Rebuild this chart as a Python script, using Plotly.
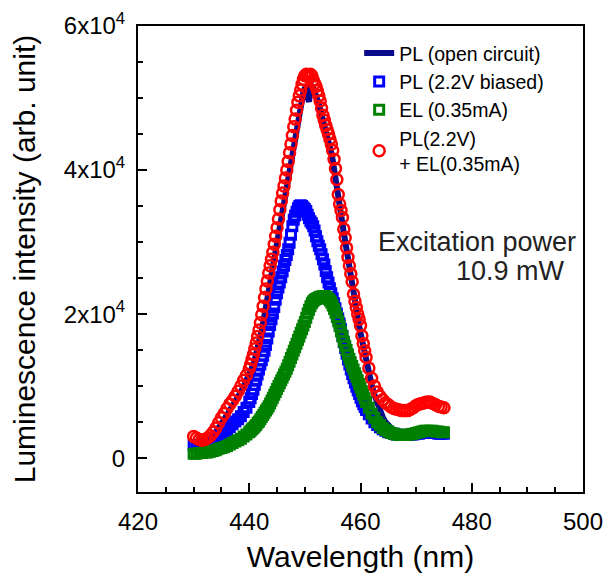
import numpy as np
import plotly.graph_objects as go

# Wavelength sampling grid (nm): 0.5 nm steps on tails, 0.25 nm on the main peak
wl = np.concatenate([
    np.arange(430.0, 440.01, 0.5),
    np.arange(440.25, 461.01, 0.25),
    np.arange(461.5, 475.01, 0.5),
])

# Intensities in units of 1e3 counts
pl_open_k = [
    2.3, 2.2, 2.1, 2.1, 2.2, 2.4, 2.7, 3.1, 3.6, 4.2, 4.8, 5.4, 6.0, 6.6, 7.2, 7.8, 8.5, 9.2, 10.0, 10.8, 11.6,
    11.9, 12.4, 13.0, 13.7,
    14.4, 15.2, 16.0, 16.9,
    17.8, 18.8, 19.9, 21.1,
    22.3, 23.5, 24.6, 25.7,
    26.7, 27.6, 28.6, 29.7,
    30.8, 32.0, 33.2, 34.5,
    35.7, 36.8, 37.8, 38.9,
    40.0, 41.2, 42.4, 43.6,
    44.8, 46.0, 47.1, 48.3,
    49.3, 50.2, 50.9, 51.4,
    51.6, 50.0, 49.5, 51.5,
    51.6, 51.3, 50.9, 50.4,
    49.8, 49.2, 48.5, 47.7,
    46.9, 46.2, 45.5, 44.8,
    44.1, 43.3, 42.4, 41.4,
    40.3, 39.1, 37.8, 36.4,
    35.1, 33.8, 32.6, 31.3,
    30.0, 28.8, 27.5, 26.3,
    25.0, 23.8, 22.6, 21.5,
    20.4, 19.4, 18.4, 17.4,
    16.4, 15.4, 14.4, 13.5,
    11.8, 10.2, 8.8, 7.6, 6.6, 5.7, 5.0, 4.5, 4.1, 3.8, 3.6, 3.4, 3.3, 3.3,
    3.3, 3.3, 3.4, 3.4, 3.5, 3.5, 3.6, 3.6, 3.6, 3.6, 3.5, 3.5, 3.4, 3.4,
]

pl_biased_k = [
    1.8, 1.8, 1.8, 1.9, 1.9, 2.0, 2.2, 2.4, 2.6, 2.9, 3.2, 3.5, 3.9, 4.3, 4.7, 5.1, 5.4, 5.8, 6.4, 7.0, 7.8,
    8.3, 8.9, 9.5, 10.2,
    10.9, 11.6, 12.3, 13.0,
    13.6, 14.2, 14.9, 15.7,
    16.6, 17.6, 18.5, 19.3,
    20.1, 21.0, 22.0, 22.9,
    23.7, 24.4, 25.1, 25.9,
    26.7, 27.5, 28.2, 29.0,
    29.9, 31.0, 32.2, 33.1,
    33.7, 34.2, 34.7, 35.0,
    35.1, 35.0, 34.8, 34.6,
    34.3, 33.8, 33.3, 32.9,
    32.6, 32.2, 31.6, 30.8,
    30.1, 29.5, 29.0, 28.3,
    27.6, 26.9, 26.0, 25.1,
    24.4, 23.6, 22.9, 22.2,
    21.5, 20.8, 20.1, 19.4,
    18.7, 17.9, 17.0, 16.1,
    15.3, 14.5, 13.7, 13.0,
    12.3, 11.7, 11.1, 10.5,
    9.9, 9.4, 8.9, 8.4,
    7.9, 7.5, 7.1, 6.7,
    6.1, 5.5, 5.0, 4.6, 4.3, 4.0, 3.8, 3.6, 3.5, 3.4, 3.3, 3.2, 3.2, 3.2,
    3.2, 3.3, 3.3, 3.4, 3.4, 3.5, 3.5, 3.6, 3.6, 3.5, 3.5, 3.4, 3.4, 3.4,
]

el_k = [
    0.6, 0.6, 0.7, 0.7, 0.8, 0.8, 0.9, 1.0, 1.1, 1.3, 1.4, 1.5, 1.7, 1.9, 2.1, 2.3, 2.5, 2.7, 3.0, 3.3, 3.6,
    3.8, 4.0, 4.2, 4.4,
    4.6, 4.9, 5.1, 5.4,
    5.7, 6.0, 6.3, 6.6,
    6.9, 7.2, 7.6, 8.0,
    8.4, 8.8, 9.2, 9.6,
    10.0, 10.4, 10.8, 11.2,
    11.6, 12.0, 12.4, 12.9,
    13.4, 13.9, 14.4, 14.9,
    15.4, 15.9, 16.4, 16.9,
    17.4, 17.9, 18.4, 18.9,
    19.5, 20.1, 20.6, 21.1,
    21.5, 21.8, 22.0, 22.1,
    22.2, 22.3, 22.4, 22.4,
    22.5, 22.5, 22.4, 22.3,
    22.1, 21.9, 21.6, 21.2,
    20.7, 20.2, 19.6, 19.0,
    18.3, 17.6, 16.9, 16.2,
    15.6, 15.0, 14.4, 13.8,
    13.3, 12.8, 12.3, 11.8,
    11.3, 10.8, 10.3, 9.8,
    9.3, 8.8, 8.3, 7.8,
    7.0, 6.2, 5.6, 5.0, 4.6, 4.2, 3.9, 3.7, 3.5, 3.4, 3.3, 3.2, 3.2, 3.2,
    3.3, 3.3, 3.4, 3.5, 3.6, 3.7, 3.8, 3.8, 3.8, 3.8, 3.7, 3.7, 3.6, 3.6,
]

pl_el_k = [
    3.0, 2.8, 2.6, 2.5, 2.6, 2.8, 3.1, 3.6, 4.2, 4.9, 5.6, 6.2, 6.9, 7.5, 8.0, 8.6, 9.3, 10.0, 10.8, 11.5, 12.4,
    13.0, 13.7, 14.4, 15.2,
    16.0, 16.9, 17.8, 18.8,
    19.9, 21.1, 22.3, 23.5,
    24.6, 25.7, 26.7, 27.6,
    28.6, 29.7, 30.8, 32.0,
    33.2, 34.5, 35.7, 36.8,
    37.8, 38.9, 40.0, 41.2,
    42.4, 43.6, 44.8, 46.0,
    47.1, 48.3, 49.4, 50.3,
    51.1, 51.9, 52.6, 53.1,
    53.3, 53.2, 52.9, 53.3,
    53.1, 52.5, 52.0, 51.6,
    51.0, 50.3, 49.6, 48.6,
    47.6, 46.9, 46.2, 45.6,
    45.0, 44.3, 43.6, 42.7,
    41.5, 40.2, 38.7, 36.6,
    35.3, 34.4, 33.4, 31.8,
    30.6, 29.2, 27.9, 26.7,
    25.6, 24.5, 22.8, 21.8,
    20.9, 20.0, 19.3, 18.4,
    17.0, 15.9, 14.9, 14.0,
    12.5, 11.1, 10.0, 9.2, 8.6, 8.1, 7.7, 7.4, 7.1, 6.9, 6.8, 6.7, 6.6, 6.6,
    6.6, 6.8, 7.0, 7.3, 7.5, 7.6, 7.7, 7.8, 7.8, 7.6, 7.4, 7.2, 7.1, 7.0,
]

series_names = ["PL (open circuit)", "PL (2.2V biased)", "EL (0.35mA)", "PL(2.2V)<br>+ EL(0.35mA)"]
y_tick_vals = [0, 20000, 40000, 60000]
y_tick_text = ["0", "2x10<sup>4</sup>", "4x10<sup>4</sup>", "6x10<sup>4</sup>"]

for s in (pl_open_k, pl_biased_k, el_k, pl_el_k):
    assert len(s) == len(wl), (len(s), len(wl))

def counts(v):
    return np.array(v) * 1000.0

FONT = "Liberation Sans, Arial, sans-serif"

fig = go.Figure()
fig.add_trace(go.Scatter(
    x=wl, y=counts(pl_open_k), mode="lines", name=series_names[0],
    line=dict(color="#0a0a8c", width=6),
))
fig.add_trace(go.Scatter(
    x=wl, y=counts(pl_biased_k), mode="markers", name=series_names[1],
    marker=dict(symbol="square-open", size=9, color="#0000ff", line=dict(width=3, color="#0000ff")),
))
fig.add_trace(go.Scatter(
    x=wl, y=counts(el_k), mode="markers", name=series_names[2],
    marker=dict(symbol="square-open", size=9, color="#008000", line=dict(width=3, color="#008000")),
))
fig.add_trace(go.Scatter(
    x=wl, y=counts(pl_el_k), mode="markers", name=series_names[3],
    marker=dict(symbol="circle-open", size=11, color="#ff0000", line=dict(width=2.5, color="#ff0000")),
))

axis_common = dict(
    showline=True, linecolor="black", linewidth=2, mirror=True,
    ticks="inside", ticklen=9, tickwidth=1.5, tickcolor="black",
    showgrid=False, zeroline=False, automargin=False,
    tickfont=dict(family=FONT, size=24, color="black"),
)

fig.update_xaxes(
    range=[420, 500], tick0=420, dtick=20,
    minor=dict(ticks="inside", ticklen=5, tickwidth=1.5, tickcolor="black", dtick=5, tick0=420),
    title=dict(text="Wavelength (nm)", font=dict(family=FONT, size=30, color="black"), standoff=12),
    ticklabelstandoff=7,
    **axis_common,
)
fig.update_yaxes(
    range=[-4700, 60000], tickmode="array", tickvals=y_tick_vals, ticktext=y_tick_text,
    minor=dict(ticks="inside", ticklen=5, tickwidth=1.5, tickcolor="black", tickmode="linear", dtick=5000, tick0=0),
    title=dict(text="Luminescence intensity (arb. unit)", font=dict(family=FONT, size=30, color="black"), standoff=19),
    ticklabelstandoff=6,
    **axis_common,
)

fig.add_annotation(x=481.0, y=29960, text="Excitation power", showarrow=False,
                   font=dict(family=FONT, size=27, color="#222222"), xanchor="center", yanchor="middle")
fig.add_annotation(x=487.0, y=25930, text="10.9 mW", showarrow=False,
                   font=dict(family=FONT, size=27, color="#222222"), xanchor="center", yanchor="middle")

# page body has an 8px margin, so the figure is sized to fit the 616x579 window
fig.update_layout(
    width=608, height=571,
    margin=dict(l=130, r=33, t=18, b=87, autoexpand=False),
    paper_bgcolor="white", plot_bgcolor="white",
    showlegend=True,
    legend=dict(
        x=0.497, y=0.983, xanchor="left", yanchor="top",
        bgcolor="rgba(0,0,0,0)", borderwidth=0,
        font=dict(family=FONT, size=19.5, color="black"),
        tracegroupgap=0, itemwidth=30,
    ),
)

fig.write_html("out.html")
